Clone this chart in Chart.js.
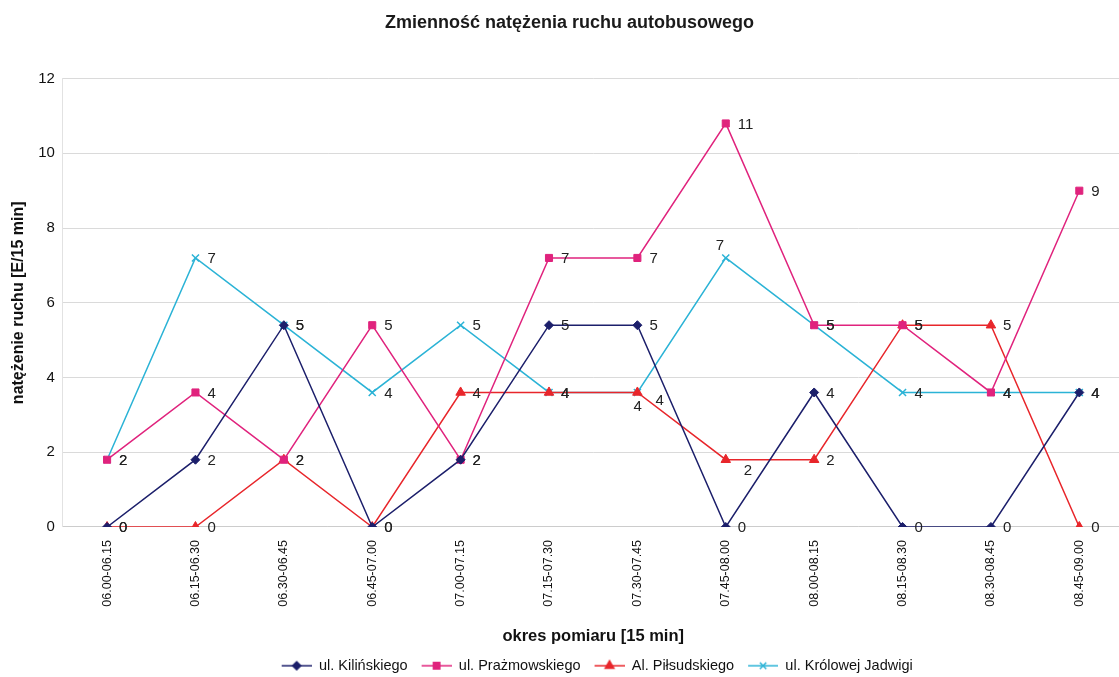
<!DOCTYPE html>
<html>
<head>
<meta charset="utf-8">
<script src="https://cdn.jsdelivr.net/npm/chart.js@4"></script>
<style>
  html, body { margin: 0; padding: 0; background: #fff; overflow: hidden; }
  #wrap { width: 1119px; height: 677px; overflow: hidden; }
</style>
</head>
<body>
<div id="wrap"><canvas id="chart" width="1130" height="677"></canvas></div>
<script>
// okresy pomiaru
const categories = ["06.00-06.15", "06.15-06.30", "06.30-06.45", "06.45-07.00", "07.00-07.15", "07.15-07.30",
    "07.30-07.45", "07.45-08.00", "08.00-08.15", "08.15-08.30", "08.30-08.45", "08.45-09.00"];

// natężenie ruchu [E/15 min]
const kilinskiego = [0, 1.8, 5.4, 0, 1.8, 5.4, 5.4, 0, 3.6, 0, 0, 3.6];
const prazmowskiego = [1.8, 3.6, 1.8, 5.4, 1.8, 7.2, 7.2, 10.8, 5.4, 5.4, 3.6, 9];
const pilsudskiego = [0, 0, 1.8, 0, 3.6, 3.6, 3.6, 1.8, 1.8, 5.4, 5.4, 0];
const jadwigi = [1.8, 7.2, 5.4, 3.6, 5.4, 3.6, 3.6, 7.2, 5.4, 3.6, 3.6, 3.6];

const yTicks = [0, 2, 4, 6, 8, 10, 12];

const FONT = "Arial, 'Liberation Sans', sans-serif";

// ikonka legendy: linia z markerem pośrodku (z lewym marginesem jako odstęp)
function legendIcon(color, style, r) {
    const c = document.createElement("canvas");
    c.width = 38;
    c.height = 14;
    const g = c.getContext("2d");
    g.strokeStyle = color;
    g.fillStyle = color;
    g.lineWidth = 1.5;
    g.beginPath();
    g.moveTo(8, 7);
    g.lineTo(38, 7);
    g.stroke();
    Chart.helpers.drawPoint(g, { pointStyle: style, radius: r, rotation: 0, borderWidth: 1.5 }, 23, 7);
    return c;
}

// etykiety danych (jak w Excelu: obok punktu, zaokrąglone)
const dataLabels = {
    id: "dataLabels",
    afterDatasetsDraw(chart) {
        const ctx = chart.ctx;
        ctx.save();
        ctx.font = "15px " + FONT;
        ctx.fillStyle = "#222";
        ctx.textBaseline = "middle";
        chart.data.datasets.forEach((ds, i) => {
            const meta = chart.getDatasetMeta(i);
            meta.data.forEach((pt, j) => {
                const [dx, dy] = (ds.labelPos && ds.labelPos[j]) || [12, 1];
                ctx.fillText(Math.round(ds.data[j]), pt.x + dx, pt.y + dy);
            });
        });
        ctx.restore();
    }
};

const series = [
    { label: "ul. Kilińskiego", data: kilinskiego, color: "#1c1f6b", style: "rectRot", r: 4.5 },
    { label: "ul. Prażmowskiego", data: prazmowskiego, color: "#e0237d", style: "rect", r: 5 },
    { label: "Al. Piłsudskiego", data: pilsudskiego, color: "#e8262b", style: "triangle", r: 5.5,
      labelPos: { 6: [18, 8], 7: [18, 11] } },
    { label: "ul. Królowej Jadwigi", data: jadwigi, color: "#2bb3d6", style: "crossRot", r: 5,
      labelPos: { 6: [-4, 14], 7: [-10, -12] } },
];

new Chart(document.getElementById("chart"), {
    type: "line",
    data: {
        labels: categories,
        datasets: series.map(s => ({
            label: s.label,
            data: s.data,
            borderColor: s.color,
            backgroundColor: s.color,
            pointStyle: s.style,
            pointRadius: s.r,
            pointBorderWidth: s.style === "crossRot" ? 1.5 : 1,
            labelPos: s.labelPos,
            legendIcon: legendIcon(s.color, s.style, s.r * 0.9),
        })),
    },
    options: {
        responsive: false,
        animation: false,
        layout: { padding: { left: 9, right: 0, top: 4, bottom: -6 } },
        elements: {
            line: { borderWidth: 1.5, tension: 0 },
        },
        plugins: {
            title: {
                display: true,
                text: "Zmienność natężenia ruchu autobusowego",
                color: "#1a1a1a",
                font: { family: FONT, size: 18, weight: "bold" },
                padding: { top: 8, bottom: 45 },
            },
            legend: {
                position: "bottom",
                fullSize: false,
                labels: {
                    usePointStyle: true,
                    pointStyleWidth: 38,
                    color: "#111",
                    padding: 6,
                    font: { family: FONT, size: 14.5 },
                    generateLabels(chart) {
                        return chart.data.datasets.map((ds, i) => ({
                            text: ds.label,
                            pointStyle: ds.legendIcon,
                            fillStyle: ds.borderColor,
                            strokeStyle: ds.borderColor,
                            lineWidth: 0,
                            fontColor: "#111",
                            datasetIndex: i,
                        }));
                    },
                },
            },
            tooltip: { enabled: false },
        },
        scales: {
            x: {
                offset: true,
                afterFit: scale => { scale.paddingLeft = 0; scale.paddingRight = 0; },
                grid: { display: false },
                border: { color: "#ccc" },
                ticks: {
                    maxRotation: 90,
                    minRotation: 90,
                    color: "#111",
                    padding: 5,
                    font: { family: FONT, size: 12.5 },
                },
                title: {
                    display: true,
                    text: "okres pomiaru [15 min]",
                    color: "#111",
                    padding: { top: 15, bottom: 6 },
                    font: { family: FONT, size: 16.5, weight: "bold" },
                },
            },
            y: {
                min: 0,
                max: 12,
                afterBuildTicks: axis => { axis.ticks = yTicks.map(v => ({ value: v })); },
                grid: { color: "#dadada", drawTicks: false },
                border: { color: "#e2e2e2" },
                ticks: {
                    color: "#111",
                    padding: 8,
                    font: { family: FONT, size: 15 },
                },
                title: {
                    display: true,
                    text: "natężenie ruchu [E/15 min]",
                    color: "#111",
                    padding: { top: 0, bottom: 2 },
                    font: { family: FONT, size: 16, weight: "bold" },
                },
            },
        },
    },
    plugins: [dataLabels],
});
</script>
</body>
</html>
